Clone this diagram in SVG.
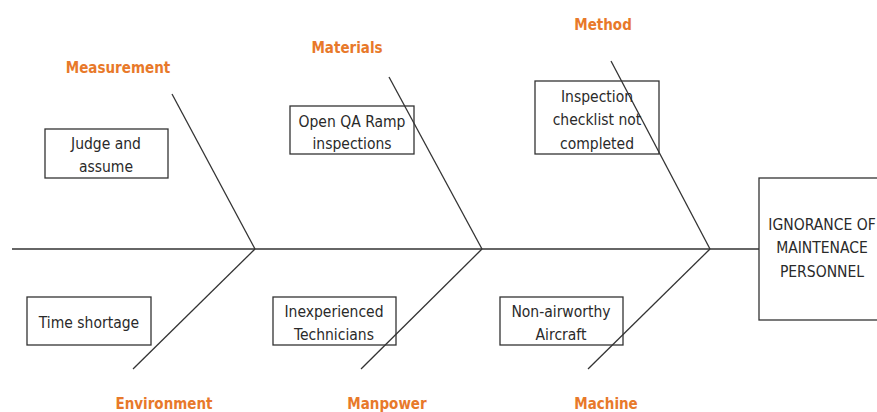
<svg xmlns="http://www.w3.org/2000/svg" width="877" height="412" viewBox="0 0 877 412">
<style>
.bg{fill:#fff}
.ln{stroke:#333;stroke-width:1.3;fill:none}
.box{fill:none;stroke:#333;stroke-width:1.3}
.t{font-family:"DejaVu Sans Condensed","DejaVu Sans",sans-serif;font-stretch:condensed;font-size:15.5px;fill:#2a2a2a;text-anchor:middle}
.cat{font-family:"DejaVu Sans Condensed","DejaVu Sans",sans-serif;font-stretch:condensed;font-weight:bold;font-size:15px;fill:#E8792A;text-anchor:middle}
</style>
<rect class="bg" x="0" y="0" width="877" height="412"/>
<g id="connectors">
<line class="ln" x1="12" y1="249" x2="759" y2="249"/>
<line class="ln" x1="172" y1="94" x2="255" y2="249"/>
<line class="ln" x1="389" y1="77" x2="482" y2="249"/>
<line class="ln" x1="611" y1="61" x2="710" y2="249"/>
<line class="ln" x1="255" y1="249" x2="133" y2="369"/>
<line class="ln" x1="482" y1="249" x2="361" y2="369"/>
<line class="ln" x1="710" y1="249" x2="588" y2="369"/>
</g>
<g id="measurement"><text class="cat" x="118" y="73">Measurement</text></g>
<g id="materials"><text class="cat" x="347" y="53">Materials</text></g>
<g id="method"><text class="cat" x="603" y="30">Method</text></g>
<g id="environment"><text class="cat" x="164" y="409">Environment</text></g>
<g id="manpower"><text class="cat" x="387" y="409">Manpower</text></g>
<g id="machine"><text class="cat" x="606" y="409">Machine</text></g>
<g id="judge"><rect class="box" x="45" y="129" width="123" height="49"/><text class="t" x="106" y="149">Judge and</text><text class="t" x="106" y="172">assume</text></g>
<g id="openqa"><rect class="box" x="290" y="106" width="124" height="48"/><text class="t" x="352" y="127">Open QA Ramp</text><text class="t" x="352" y="149">inspections</text></g>
<g id="checklist"><rect class="box" x="535" y="81" width="124" height="73"/><text class="t" x="597" y="102">Inspection</text><text class="t" x="597" y="125">checklist not</text><text class="t" x="597" y="149">completed</text></g>
<g id="time"><rect class="box" x="27" y="297" width="124" height="48"/><text class="t" x="89" y="328">Time shortage</text></g>
<g id="inexperienced"><rect class="box" x="273" y="297" width="123" height="48"/><text class="t" x="334" y="317">Inexperienced</text><text class="t" x="334" y="340">Technicians</text></g>
<g id="nonairworthy"><rect class="box" x="500" y="297" width="123" height="48"/><text class="t" x="561" y="317">Non-airworthy</text><text class="t" x="561" y="340">Aircraft</text></g>
<g id="ignorance"><rect class="box" x="759" y="178" width="130" height="142"/><text class="t" x="822" y="230">IGNORANCE OF</text><text class="t" x="822" y="253">MAINTENACE</text><text class="t" x="822" y="277">PERSONNEL</text></g>
</svg>
